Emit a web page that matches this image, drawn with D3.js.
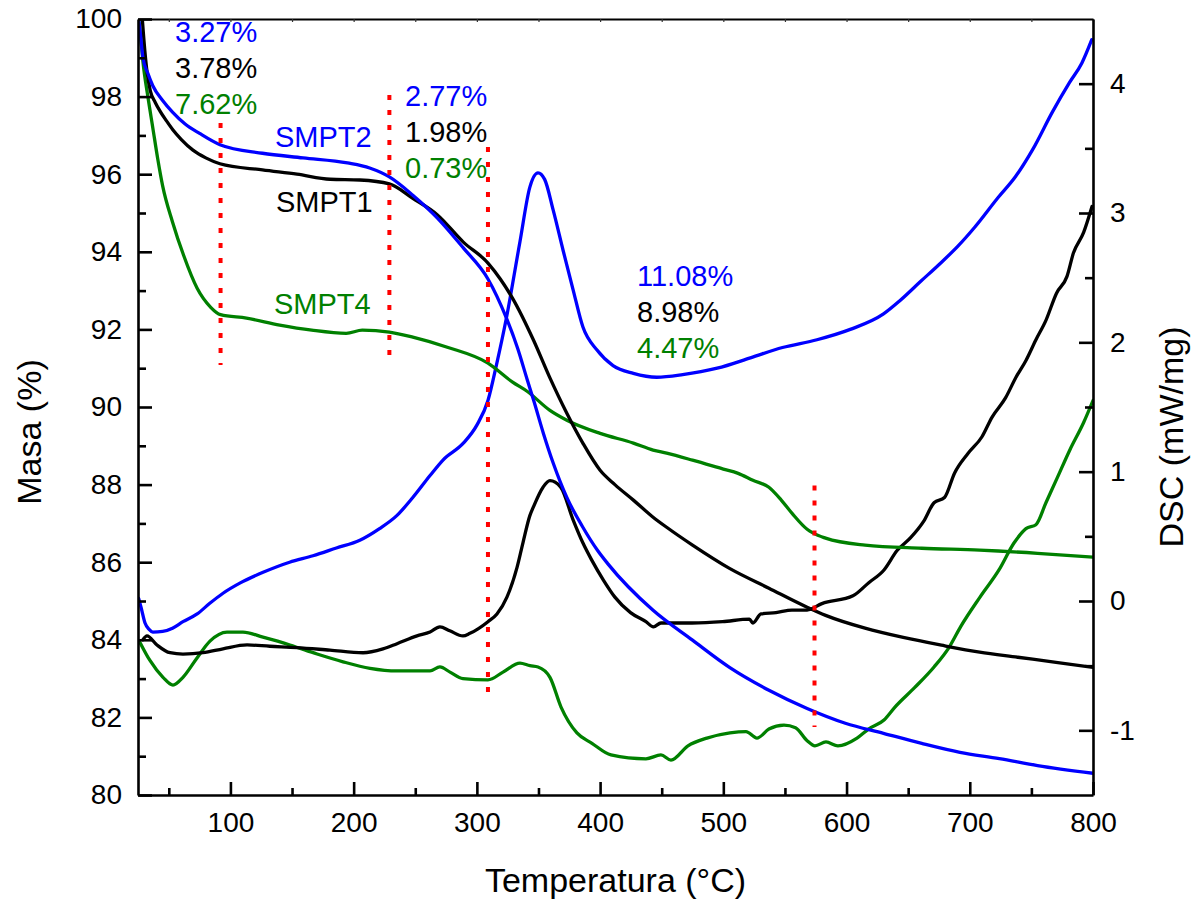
<!DOCTYPE html>
<html>
<head>
<meta charset="utf-8">
<script src="https://cdn.jsdelivr.net/npm/d3@7"></script>
<style>
  html, body { margin: 0; padding: 0; background: #fff; }
  svg text { font-family: "Liberation Sans", Arial, Helvetica, sans-serif; }
</style>
</head>
<body>
<svg id="chart" width="1196" height="900"></svg>
<script>
// ---- Thermogravimetric data: [temperature °C, mass %] ----
const tgSMPT1 = [[28.5,100],[30.5,99.2],[32.5,98.6],[35,98.15],[39,97.85],[43,97.62],[48,97.38],[53.4,97.14],[60,96.9],[69.6,96.62],[80,96.42],[91.5,96.27],[126,96.11],[154,96.0],[181,95.87],[205,95.85],[229,95.75],[248,95.38],[268,94.95],[289,94.25],[309,93.71],[319,93.3],[329,92.8],[346,91.72],[359,90.77],[373,89.84],[386,89.07],[400,88.37],[412,88.0],[427,87.6],[443,87.16],[454,86.9],[475,86.44],[505,85.84],[537,85.33],[568,84.84],[583,84.63],[615,84.3],[646,84.06],[677,83.86],[708,83.68],[739,83.55],[770,83.42],[800,83.29]];

const tgSMPT2 = [[25.5,100],[27,99.6],[29,99.0],[33,98.6],[37,98.28],[45,97.9],[53,97.6],[63,97.3],[75,97.05],[91.5,96.76],[126,96.54],[159,96.42],[195,96.29],[213,96.16],[229,95.93],[248,95.46],[268,94.87],[289,94.1],[309,93.3],[324,92.29],[333,91.52],[341,90.69],[346,90.18],[354,89.32],[362,88.55],[373,87.67],[386,86.9],[398,86.3],[406,85.97],[443,84.76],[475,83.99],[505,83.29],[537,82.7],[568,82.23],[599,81.85],[630,81.59],[661,81.33],[692,81.1],[724,80.94],[755,80.76],[800,80.56]];

const tgSMPT4 = [[25.5,100],[27,99.6],[29,98.9],[33,98.0],[37,97.2],[41,96.4],[45,95.7],[53,94.77],[62,93.91],[73,93.06],[84,92.57],[92,92.38],[113,92.29],[140,92.11],[166,91.98],[194,91.9],[207,91.98],[229,91.93],[248,91.8],[276,91.54],[309,91.13],[329,90.64],[341,90.4],[359,89.92],[373,89.66],[400,89.32],[427,89.07],[443,88.89],[454,88.81],[475,88.63],[500,88.4],[512,88.29],[524,88.11],[537,87.93],[547,87.6],[556,87.25],[568,86.85],[573,86.75],[583,86.62],[615,86.44],[661,86.36],[708,86.31],[755,86.23],[800,86.13]];

// ---- DSC data: [temperature °C, heat flow mW/mg] ----
const dscSMPT1 = [[29,-0.30],[32.3,-0.27],[40.4,-0.34],[51,-0.40],[61.5,-0.41],[77.7,-0.40],[94,-0.37],[113.5,-0.34],[132,-0.35],[154,-0.36],[180.8,-0.38],[207.6,-0.40],[223.8,-0.37],[235.2,-0.33],[251.4,-0.27],[262,-0.24],[270,-0.20],[278,-0.23],[288.7,-0.27],[294.4,-0.25],[309,-0.16],[316.3,-0.10],[324.4,0.03],[332.6,0.26],[337.4,0.45],[343,0.66],[346,0.73],[353.7,0.88],[359.3,0.93],[368,0.88],[378,0.63],[386,0.45],[393,0.32],[402.8,0.16],[412,0.03],[424.7,-0.09],[437.2,-0.16],[443.3,-0.20],[449.4,-0.17],[474.6,-0.17],[499.4,-0.16],[521.2,-0.14],[524,-0.17],[530.6,-0.10],[542.7,-0.09],[555.7,-0.07],[568,-0.07],[580,-0.02],[605.2,0.04],[617.8,0.14],[630.4,0.24],[641,0.39],[652,0.49],[662.8,0.62],[671,0.76],[679.5,0.80],[687.7,0.99],[698.5,1.14],[709.9,1.27],[718,1.42],[729,1.57],[737.5,1.73],[745.6,1.86],[753.7,2.02],[761.8,2.17],[770.4,2.38],[778.9,2.51],[784.1,2.69],[792.4,2.85],[799.2,3.05]];

const dscSMPT2 = [[25.5,0.02],[27.5,-0.05],[30.7,-0.17],[34,-0.22],[37,-0.24],[45,-0.235],[53,-0.21],[61.5,-0.16],[73,-0.10],[83,-0.02],[94,0.06],[108,0.14],[126,0.22],[148,0.30],[167,0.35],[186,0.41],[205,0.47],[221,0.56],[235,0.66],[248,0.80],[262,0.97],[272.5,1.09],[289,1.22],[300,1.36],[309,1.55],[316,1.83],[324,2.19],[335,2.78],[343,3.2],[349.6,3.31],[355,3.26],[362,3.02],[370,2.71],[378,2.41],[386,2.12],[397.5,1.94],[410.5,1.82],[427,1.76],[446,1.73],[467,1.75],[495,1.80],[522,1.88],[548,1.96],[576,2.02],[603,2.10],[630,2.22],[643,2.32],[660,2.47],[676,2.61],[690,2.74],[704,2.89],[723,3.12],[737,3.28],[751,3.49],[767,3.78],[781,4.01],[791,4.16],[799,4.34]];

const dscSMPT4 = [[26.6,-0.32],[34.7,-0.46],[45.3,-0.59],[53.4,-0.65],[61.5,-0.59],[72.9,-0.44],[83.4,-0.31],[97.2,-0.24],[110.2,-0.24],[126.4,-0.28],[148.3,-0.34],[170.3,-0.41],[191.4,-0.47],[213.3,-0.52],[235.2,-0.54],[262,-0.54],[270,-0.51],[278.2,-0.55],[288.7,-0.60],[309,-0.61],[321.2,-0.55],[335,-0.48],[343.1,-0.50],[349.6,-0.51],[359.3,-0.59],[368.3,-0.82],[381.2,-1.02],[393.4,-1.10],[408.8,-1.19],[437.2,-1.22],[449.4,-1.19],[457.5,-1.23],[471.3,-1.12],[486.7,-1.06],[505.4,-1.02],[518.4,-1.01],[527.3,-1.06],[537,-0.99],[549.2,-0.96],[558.6,-0.98],[568,-1.08],[574.4,-1.12],[583.3,-1.09],[593,-1.12],[608.5,-1.06],[617.8,-0.99],[630.4,-0.92],[639.3,-0.82],[655.2,-0.67],[671,-0.51],[683.1,-0.36],[692.5,-0.20],[708.3,0.03],[723.7,0.24],[736,0.45],[745.6,0.56],[753.7,0.59],[761.8,0.76],[770.4,0.94],[781.3,1.17],[792.4,1.38],[800,1.55]];

// ---- Decomposition stage boundaries (°C) and the mass span of each marker ----
const stageTemps  = [92, 229, 309, 574];
const stageTop    = [97.32, 98.04, 96.7, 87.98];
const stageBottom = [91.08, 91.08, 82.5, 81.75];

// ---- Mass-loss labels per stage, ordered SMPT2, SMPT1, SMPT4 ----
const stage1Loss = ["3.27%", "3.78%", "7.62%"];
const stage2Loss = ["2.77%", "1.98%", "0.73%"];
const stage3Loss = ["11.08%", "8.98%", "4.47%"];
const sampleNames = ["SMPT2", "SMPT1", "SMPT4"];

// ---- Tick values ----
const tempTicks = [100, 200, 300, 400, 500, 600, 700, 800];
const massTicks = [80, 82, 84, 86, 88, 90, 92, 94, 96, 98, 100];
const dscTicks  = [-1, 0, 1, 2, 3, 4];

// ---- Layout ----
const box = { left: 138, right: 1093, top: 19, bottom: 795 };
const colors = { SMPT1: "#000000", SMPT2: "#0000ff", SMPT4: "#008000" };

const svg = d3.select("#chart");

const x = d3.scaleLinear().domain([25, 800]).range([box.left, box.right]);
const yMass = d3.scaleLinear().domain([80, 100]).range([box.bottom, box.top]);
const yDsc = d3.scaleLinear().domain([-1.5, 4.5]).range([box.bottom, box.top]);

svg.append("defs").append("clipPath").attr("id", "plot-clip")
  .append("rect")
  .attr("x", box.left).attr("y", box.top)
  .attr("width", box.right - box.left).attr("height", box.bottom - box.top);

const plot = svg.append("g").attr("clip-path", "url(#plot-clip)");

const massLine = d3.line().x(d => x(d[0])).y(d => yMass(d[1])).curve(d3.curveMonotoneX);
const dscLine  = d3.line().x(d => x(d[0])).y(d => yDsc(d[1])).curve(d3.curveMonotoneX);

const curves = [
  { data: dscSMPT4, line: dscLine, color: colors.SMPT4 },
  { data: dscSMPT1, line: dscLine, color: colors.SMPT1 },
  { data: dscSMPT2, line: dscLine, color: colors.SMPT2 },
  { data: tgSMPT4,  line: massLine, color: colors.SMPT4 },
  { data: tgSMPT1,  line: massLine, color: colors.SMPT1 },
  { data: tgSMPT2,  line: massLine, color: colors.SMPT2 }
];

plot.selectAll("path.curve")
  .data(curves)
  .enter().append("path")
  .attr("class", "curve")
  .attr("d", c => c.line(c.data))
  .attr("fill", "none")
  .attr("stroke", c => c.color)
  .attr("stroke-width", 3.3)
  .attr("stroke-linejoin", "round")
  .attr("stroke-linecap", "round");

// red dotted stage markers
plot.selectAll("line.stage")
  .data(stageTemps)
  .enter().append("line")
  .attr("class", "stage")
  .attr("x1", d => x(d)).attr("x2", d => x(d))
  .attr("y1", (d, i) => yMass(stageTop[i]))
  .attr("y2", (d, i) => yMass(stageBottom[i]))
  .attr("stroke", "#ff0000")
  .attr("stroke-width", 4)
  .attr("stroke-dasharray", "5,10");

// ---- Axes ----
function styleAxis(g, width) {
  g.select(".domain").attr("stroke", "#000").attr("stroke-width", width);
  g.selectAll(".tick line").attr("stroke", "#000").attr("stroke-width", width);
  g.selectAll(".tick text").attr("fill", "#000")
    .style("font-family", '"Liberation Sans", Arial, sans-serif')
    .style("font-size", "28px");
}

// bottom
const gBottom = svg.append("g").attr("transform", `translate(0,${box.bottom})`)
  .call(d3.axisBottom(x).tickValues(tempTicks).tickFormat(d3.format("d"))
    .tickSizeInner(-13).tickSizeOuter(0).tickPadding(17));
styleAxis(gBottom, 2.6);
svg.append("g").attr("transform", `translate(0,${box.bottom})`)
  .call(d3.axisBottom(x).tickValues(d3.range(50, 800, 100)).tickFormat("")
    .tickSizeInner(-7).tickSizeOuter(0))
  .call(g => { g.select(".domain").remove(); g.selectAll(".tick line").attr("stroke", "#000").attr("stroke-width", 2.6); });

// top frame
const gTop = svg.append("g").attr("transform", `translate(0,${box.top})`)
  .call(d3.axisTop(x).tickValues(d3.range(50, 801, 50)).tickFormat("")
    .tickSizeInner(-3).tickSizeOuter(0));
gTop.select(".domain").attr("stroke", "#000").attr("stroke-width", 2.2);
gTop.selectAll(".tick line").attr("stroke", "#333").attr("stroke-width", 1.2);

// left (mass)
const gLeft = svg.append("g").attr("transform", `translate(${box.left},0)`)
  .call(d3.axisLeft(yMass).tickValues(massTicks).tickFormat(d3.format("d"))
    .tickSizeInner(-14).tickSizeOuter(0).tickPadding(16));
styleAxis(gLeft, 2.6);
svg.append("g").attr("transform", `translate(${box.left},0)`)
  .call(d3.axisLeft(yMass).tickValues(d3.range(81, 100, 2)).tickFormat("")
    .tickSizeInner(-8).tickSizeOuter(0))
  .call(g => { g.select(".domain").remove(); g.selectAll(".tick line").attr("stroke", "#000").attr("stroke-width", 2.6); });

// right (DSC)
const gRight = svg.append("g").attr("transform", `translate(${box.right},0)`)
  .call(d3.axisRight(yDsc).tickValues(dscTicks).tickFormat(d3.format("d"))
    .tickSizeInner(-14).tickSizeOuter(0).tickPadding(17));
styleAxis(gRight, 2.6);
gRight.selectAll(".tick text").text(d => d < 0 ? "-" + Math.abs(d) : d);
svg.append("g").attr("transform", `translate(${box.right},0)`)
  .call(d3.axisRight(yDsc).tickValues([-0.5, 0.5, 1.5, 2.5, 3.5]).tickFormat("")
    .tickSizeInner(-8).tickSizeOuter(0))
  .call(g => { g.select(".domain").remove(); g.selectAll(".tick line").attr("stroke", "#000").attr("stroke-width", 2.6); });

// ---- Axis titles ----
svg.append("text")
  .attr("x", (box.left + box.right) / 2).attr("y", 892)
  .attr("text-anchor", "middle").attr("font-size", 34).attr("fill", "#000")
  .text("Temperatura (°C)");

svg.append("text")
  .attr("transform", "translate(41,432) rotate(-90)")
  .attr("text-anchor", "middle").attr("font-size", 34).attr("fill", "#000")
  .text("Masa (%)");

svg.append("text")
  .attr("transform", "translate(1183,437) rotate(-90)")
  .attr("text-anchor", "middle").attr("font-size", 34).attr("fill", "#000")
  .text("DSC (mW/mg)");

// ---- Annotations ----
const labelColors = [colors.SMPT2, colors.SMPT1, colors.SMPT4];
const annot = svg.append("g").attr("font-size", 29);

function lossBlock(texts, left, firstBaseline) {
  texts.forEach((t, i) => {
    annot.append("text")
      .attr("x", left).attr("y", firstBaseline + i * 36)
      .attr("fill", labelColors[i])
      .text(t);
  });
}
lossBlock(stage1Loss, 175, 42);
lossBlock(stage2Loss, 405, 106);
lossBlock(stage3Loss, 637, 286);

// sample names next to their mass curves
const nameAnchors = [[275, 147], [276, 212], [274, 314]];
sampleNames.forEach((n, i) => {
  annot.append("text")
    .attr("x", nameAnchors[i][0]).attr("y", nameAnchors[i][1])
    .attr("fill", colors[n])
    .text(n);
});
</script>
</body>
</html>
